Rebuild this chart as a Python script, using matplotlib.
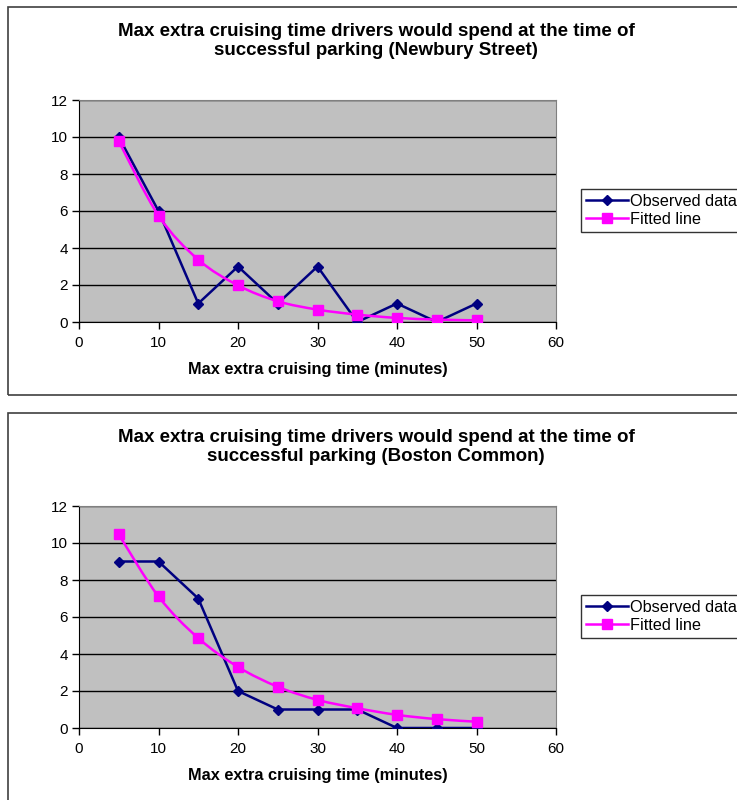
import numpy as np
import matplotlib.pyplot as plt
from matplotlib.patches import Rectangle, PathPatch
from matplotlib.path import Path

plt.rcParams['font.family'] = ['Liberation Sans', 'DejaVu Sans']

minutes = [5, 10, 15, 20, 25, 30, 35, 40, 45, 50]

newbury_observed = [10, 6, 1, 3, 1, 3, 0, 1, 0, 1]
newbury_fitted = [9.77, 5.75, 3.37, 1.98, 1.12, 0.67, 0.40, 0.22, 0.13, 0.09]

common_observed = [9, 9, 7, 2, 1, 1, 1, 0, 0, 0]
common_fitted = [10.46, 7.11, 4.86, 3.30, 2.23, 1.52, 1.07, 0.71, 0.48, 0.34]

titles = [
    'Max extra cruising time drivers would spend at the time of\nsuccessful parking (Newbury Street)',
    'Max extra cruising time drivers would spend at the time of\nsuccessful parking (Boston Common)',
]
xlabel = 'Max extra cruising time (minutes)'
series_names = ['Observed data', 'Fitted line']

W, H = 737, 800


def rect(l, t, r, b):
    # pixel box (top-left origin) -> figure fraction
    return [l / W, 1 - b / H, (r - l) / W, (b - t) / H]


def smooth_path(xs, ys, tension=1 / 6):
    # Bezier curve through the points, like a spreadsheet "smoothed line"
    pts = np.column_stack([xs, ys]).astype(float)
    verts = [pts[0]]
    codes = [Path.MOVETO]
    n = len(pts)
    for i in range(n - 1):
        p0 = pts[i - 1] if i > 0 else pts[i]
        p1 = pts[i]
        p2 = pts[i + 1]
        p3 = pts[i + 2] if i + 2 < n else pts[i + 1]
        c1 = p1 + (p2 - p0) * tension
        c2 = p2 - (p3 - p1) * tension
        verts += [c1, c2, p2]
        codes += [Path.CURVE4] * 3
    return Path(verts, codes)


def draw_chart(fig, top, title, observed, fitted):
    # outer chart frame
    fig.patches.append(Rectangle((8 / W, 1 - (top + 388) / H), 740 / W, 388 / H,
                                 transform=fig.transFigure, fill=False,
                                 edgecolor='#404040', linewidth=1.2))
    fig.text(376 / W, 1 - (top + 34) / H, title, ha='center', va='center',
             fontsize=13.5, fontweight='bold', linespacing=1.15)

    ax = fig.add_axes(rect(79, top + 93, 556, top + 315))
    ax.set_facecolor('#C0C0C0')
    ax.set_xlim(0, 60)
    ax.set_ylim(0, 12)
    ax.set_xticks(range(0, 61, 10))
    ax.set_yticks(range(0, 13, 2))
    ax.yaxis.grid(True, color='black', linewidth=1)
    ax.set_axisbelow(True)
    for side in ['top', 'right']:
        ax.spines[side].set_color('#808080')
    for side in ['left', 'bottom']:
        ax.spines[side].set_color('black')
    ax.tick_params(direction='out', length=5, width=1, labelsize=11)
    ax.tick_params(axis='x', pad=5)
    ax.tick_params(axis='y', pad=3)
    ax.set_xlabel(xlabel, fontsize=11.8, fontweight='bold', labelpad=9)

    ax.plot(minutes, observed, color='#000080', linewidth=1.8, marker='D',
            markersize=5.5, label=series_names[0], zorder=3)
    ax.add_patch(PathPatch(smooth_path(minutes, fitted), fill=False,
                           edgecolor='#FF00FF', linewidth=1.8, zorder=4))
    ax.plot(minutes, fitted, linestyle='none', color='#FF00FF', marker='s',
            markersize=6.5, zorder=5)
    handles = [ax.lines[0],
               plt.Line2D([], [], color='#FF00FF', linewidth=1.8,
                          marker='s', markersize=6.5)]

    leg = fig.legend(handles, series_names, loc='upper left',
                     bbox_to_anchor=(581 / W, 1 - (top + 182) / H),
                     fontsize=11.7, frameon=True, fancybox=False,
                     borderpad=0.3, handlelength=2.6, handletextpad=0.1,
                     labelspacing=0.2, borderaxespad=0)
    leg.get_frame().set_edgecolor('black')
    leg.get_frame().set_linewidth(1)


fig = plt.figure(figsize=(W / 100, H / 100), dpi=100)
draw_chart(fig, 7, titles[0], newbury_observed, newbury_fitted)
draw_chart(fig, 413, titles[1], common_observed, common_fitted)

fig.savefig('out.png', dpi=100, facecolor='white')
